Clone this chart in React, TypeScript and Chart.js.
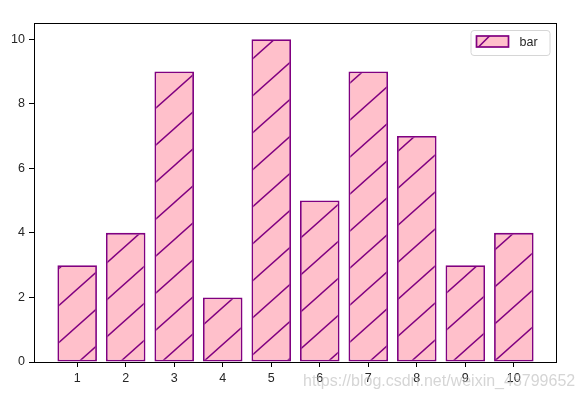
import React, { useEffect, useRef } from "react";
import { Chart, registerables } from "chart.js";

Chart.register(...registerables);

const categories = [1, 2, 3, 4, 5, 6, 7, 8, 9, 10];
const values = [3, 4, 9, 2, 10, 5, 9, 7, 3, 4];
const xTicks = [1, 2, 3, 4, 5, 6, 7, 8, 9, 10];
const yTicks = [0, 2, 4, 6, 8, 10];
const seriesLabel = "bar";
const watermark = "https://blog.csdn.net/weixin_43799652";

const FILL = "#FFC0CB";
const EDGE = "#800080";
const FONT = "'Liberation Sans', Arial, sans-serif";
const TEXT = "#262626";

function makeHatch(ctx: CanvasRenderingContext2D, phase: number) {
  const W = 83;
  const H = 74;
  const c = document.createElement("canvas");
  c.width = W;
  c.height = H;
  const g = c.getContext("2d")!;
  g.fillStyle = FILL;
  g.fillRect(0, 0, W, H);
  g.strokeStyle = EDGE;
  g.lineWidth = 1.5;
  for (let k = -4; k <= 6; k++) {
    g.beginPath();
    g.moveTo(-W, 2 * H + (k * H) / 2);
    g.lineTo(2 * W, -H + (k * H) / 2);
    g.stroke();
  }
  const p = ctx.createPattern(c, "repeat")!;
  try {
    p.setTransform(new DOMMatrix([1, 0, 0, 1, 0, phase]));
  } catch (e) {}
  return p;
}

const framePlugin = {
  id: "frame",
  afterDatasetsDraw(chart: any) {
    const { ctx, chartArea } = chart;
    ctx.save();
    ctx.strokeStyle = "#000";
    ctx.lineWidth = 1;
    ctx.strokeRect(
      chartArea.left + 0.5,
      chartArea.top + 0.5,
      chartArea.right - chartArea.left - 1,
      chartArea.bottom - chartArea.top
    );
    ctx.restore();
  },
};

const legendPlugin = {
  id: "mplLegend",
  afterDraw(chart: any) {
    const { ctx, chartArea } = chart;
    const ds = chart.data.datasets[0];
    const bw = 79;
    const bh = 25;
    const bx = chartArea.right - 7.5 - bw;
    const by = chartArea.top + 7;
    ctx.save();
    ctx.beginPath();
    (ctx as any).roundRect(bx + 0.5, by + 0.5, bw, bh, 3);
    ctx.fillStyle = "rgba(255,255,255,0.85)";
    ctx.fill();
    ctx.strokeStyle = "#d6d6d6";
    ctx.lineWidth = 1;
    ctx.stroke();
    const hx = bx + 6;
    const hy = by + 6;
    const hw = 32;
    const hh = 11;
    ctx.fillStyle = FILL;
    ctx.fillRect(hx, hy, hw, hh);
    ctx.save();
    ctx.beginPath();
    ctx.rect(hx, hy, hw, hh);
    ctx.clip();
    ctx.strokeStyle = EDGE;
    ctx.lineWidth = 1.5;
    ctx.beginPath();
    ctx.moveTo(hx + 1, hy + hh + 1);
    ctx.lineTo(hx + 14, hy - 1);
    ctx.stroke();
    ctx.restore();
    ctx.strokeStyle = EDGE;
    ctx.lineWidth = 1.7;
    ctx.strokeRect(hx, hy, hw, hh);
    ctx.fillStyle = TEXT;
    ctx.font = `12.5px ${FONT}`;
    ctx.textAlign = "left";
    ctx.textBaseline = "middle";
    ctx.fillText(ds.label, bx + 49, by + 13);
    ctx.restore();
  },
};

const watermarkPlugin = {
  id: "watermark",
  afterDraw(chart: any) {
    const { ctx } = chart;
    ctx.save();
    ctx.font = `16px ${FONT}`;
    ctx.textAlign = "left";
    ctx.textBaseline = "alphabetic";
    ctx.fillStyle = "rgba(185,185,185,0.6)";
    ctx.fillText(watermark, 303, 386, 273);
    ctx.restore();
  },
};

export default function App() {
  const ref = useRef<HTMLCanvasElement | null>(null);

  useEffect(() => {
    const canvas = ref.current!;
    const ctx = canvas.getContext("2d")!;
    const hatch = makeHatch(ctx, 25);
    const chart = new Chart(ctx, {
      type: "bar",
      data: {
        datasets: [
          {
            label: seriesLabel,
            data: categories.map((c, i) => ({ x: c, y: values[i] })),
            backgroundColor: hatch as any,
            borderColor: EDGE,
            borderWidth: 1.8,
            borderSkipped: false,
            barPercentage: 0.815,
            categoryPercentage: 1,
          },
        ],
      },
      options: {
        responsive: false,
        animation: false,
        events: [],
        layout: { padding: { left: 0, top: 23, right: 29, bottom: 0 } },
        plugins: {
          legend: { display: false },
          tooltip: { enabled: false },
          title: { display: false },
        },
        scales: {
          x: {
            type: "linear",
            min: 0.11,
            max: 10.89,
            offset: false,
            afterFit(scale: any) {
              scale.height = 36;
            },
            afterBuildTicks(scale: any) {
              scale.ticks = xTicks.map((v) => ({ value: v }));
            },
            grid: {
              display: true,
              drawOnChartArea: false,
              drawTicks: true,
              tickLength: 5,
              color: "#000",
              lineWidth: 1,
              offset: false,
            },
            border: { display: false },
            ticks: {
              padding: 4,
              color: TEXT,
              font: { family: FONT, size: 12.5 },
              maxRotation: 0,
              autoSkip: false,
            },
          },
          y: {
            type: "linear",
            min: 0,
            max: 10.5,
            afterFit(scale: any) {
              scale.width = 34;
            },
            afterBuildTicks(scale: any) {
              scale.ticks = yTicks.map((v) => ({ value: v }));
            },
            grid: {
              display: true,
              drawOnChartArea: false,
              drawTicks: true,
              tickLength: 5,
              color: "#000",
              lineWidth: 1,
            },
            border: { display: false },
            ticks: {
              padding: 4,
              color: TEXT,
              font: { family: FONT, size: 12.5 },
              autoSkip: false,
            },
          },
        },
      },
      plugins: [framePlugin, legendPlugin, watermarkPlugin],
    });
    return () => chart.destroy();
  }, []);

  return (
    <div
      style={{
        position: "absolute",
        left: 0,
        top: 0,
        width: 586,
        height: 398,
        background: "#fff",
      }}
    >
      <canvas ref={ref} width={586} height={398} />
    </div>
  );
}
